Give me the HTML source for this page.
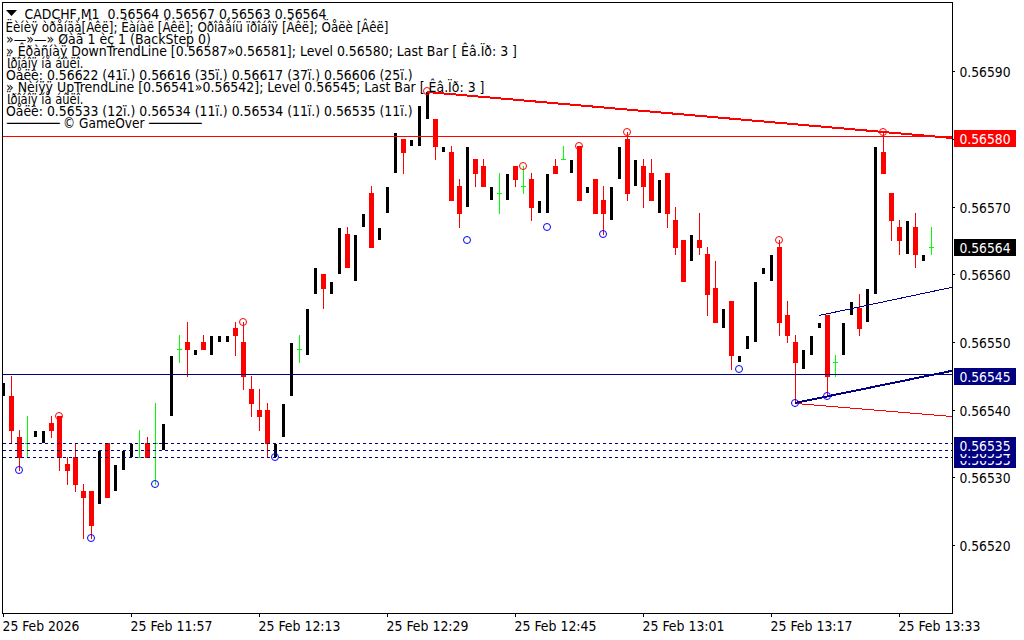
<!DOCTYPE html>
<html><head><meta charset="utf-8"><title>CADCHF,M1</title>
<style>html,body{margin:0;padding:0;background:#fff;width:1024px;height:640px;overflow:hidden}</style>
</head><body>
<svg width="1024" height="640" viewBox="0 0 1024 640" style="position:absolute;left:0;top:0;font-family:'DejaVu Sans Condensed','Liberation Sans',sans-serif">
<rect x="0" y="0" width="1024" height="640" fill="#fff"/>
<defs><clipPath id="c"><rect x="3" y="3" width="949" height="610"/></clipPath></defs>
<g clip-path="url(#c)" shape-rendering="crispEdges">
<rect x="3" y="383" width="2" height="13" fill="#000"/>
<rect x="11" y="376" width="1" height="68" fill="#ff0000"/>
<rect x="9" y="396" width="5" height="35" fill="#ff0000"/>
<rect x="19" y="430" width="1" height="41" fill="#ff0000"/>
<rect x="17" y="437" width="5" height="21" fill="#ff0000"/>
<rect x="27" y="416" width="1" height="42" fill="#00ff00"/>
<rect x="25" y="443" width="5" height="1" fill="#00ff00"/>
<rect x="34" y="431" width="3" height="6" fill="#000"/>
<rect x="42" y="431" width="3" height="12" fill="#000"/>
<rect x="51" y="416" width="1" height="22" fill="#ff0000"/>
<rect x="49" y="423" width="5" height="8" fill="#ff0000"/>
<rect x="59" y="416" width="1" height="55" fill="#ff0000"/>
<rect x="57" y="416" width="5" height="42" fill="#ff0000"/>
<rect x="67" y="457" width="1" height="28" fill="#ff0000"/>
<rect x="65" y="464" width="5" height="7" fill="#ff0000"/>
<rect x="75" y="443" width="1" height="49" fill="#ff0000"/>
<rect x="73" y="457" width="5" height="28" fill="#ff0000"/>
<rect x="83" y="484" width="1" height="55" fill="#ff0000"/>
<rect x="81" y="491" width="5" height="7" fill="#ff0000"/>
<rect x="91" y="491" width="1" height="48" fill="#ff0000"/>
<rect x="89" y="491" width="5" height="35" fill="#ff0000"/>
<rect x="98" y="451" width="3" height="53" fill="#000"/>
<rect x="107" y="443" width="1" height="55" fill="#ff0000"/>
<rect x="105" y="443" width="5" height="55" fill="#ff0000"/>
<rect x="114" y="465" width="3" height="26" fill="#000"/>
<rect x="122" y="451" width="3" height="19" fill="#000"/>
<rect x="130" y="444" width="3" height="13" fill="#000"/>
<rect x="139" y="430" width="1" height="28" fill="#00ff00"/>
<rect x="137" y="457" width="5" height="1" fill="#00ff00"/>
<rect x="147" y="437" width="1" height="21" fill="#ff0000"/>
<rect x="145" y="443" width="5" height="15" fill="#ff0000"/>
<rect x="155" y="403" width="1" height="82" fill="#00ff00"/>
<rect x="153" y="443" width="5" height="1" fill="#00ff00"/>
<rect x="162" y="424" width="3" height="26" fill="#000"/>
<rect x="170" y="356" width="3" height="60" fill="#000"/>
<rect x="179" y="335" width="1" height="28" fill="#00ff00"/>
<rect x="177" y="349" width="5" height="1" fill="#00ff00"/>
<rect x="187" y="322" width="1" height="55" fill="#ff0000"/>
<rect x="185" y="342" width="5" height="8" fill="#ff0000"/>
<rect x="194" y="350" width="3" height="5" fill="#000"/>
<rect x="203" y="335" width="1" height="15" fill="#ff0000"/>
<rect x="201" y="342" width="5" height="8" fill="#ff0000"/>
<rect x="210" y="336" width="3" height="19" fill="#000"/>
<rect x="218" y="336" width="3" height="6" fill="#000"/>
<rect x="226" y="336" width="3" height="6" fill="#000"/>
<rect x="235" y="322" width="1" height="34" fill="#ff0000"/>
<rect x="233" y="328" width="5" height="8" fill="#ff0000"/>
<rect x="243" y="322" width="1" height="68" fill="#ff0000"/>
<rect x="241" y="342" width="5" height="35" fill="#ff0000"/>
<rect x="251" y="376" width="1" height="41" fill="#ff0000"/>
<rect x="249" y="389" width="5" height="15" fill="#ff0000"/>
<rect x="259" y="389" width="1" height="42" fill="#ff0000"/>
<rect x="257" y="410" width="5" height="7" fill="#ff0000"/>
<rect x="267" y="403" width="1" height="55" fill="#ff0000"/>
<rect x="265" y="410" width="5" height="34" fill="#ff0000"/>
<rect x="274" y="444" width="3" height="13" fill="#000"/>
<rect x="282" y="404" width="3" height="33" fill="#000"/>
<rect x="290" y="343" width="3" height="53" fill="#000"/>
<rect x="299" y="335" width="1" height="28" fill="#00ff00"/>
<rect x="297" y="349" width="5" height="1" fill="#00ff00"/>
<rect x="306" y="309" width="3" height="46" fill="#000"/>
<rect x="314" y="268" width="3" height="26" fill="#000"/>
<rect x="323" y="274" width="1" height="35" fill="#ff0000"/>
<rect x="321" y="274" width="5" height="15" fill="#ff0000"/>
<rect x="330" y="282" width="3" height="12" fill="#000"/>
<rect x="338" y="228" width="3" height="46" fill="#000"/>
<rect x="347" y="227" width="1" height="41" fill="#ff0000"/>
<rect x="345" y="234" width="5" height="34" fill="#ff0000"/>
<rect x="354" y="235" width="3" height="46" fill="#000"/>
<rect x="362" y="214" width="3" height="13" fill="#000"/>
<rect x="371" y="186" width="1" height="62" fill="#ff0000"/>
<rect x="369" y="193" width="5" height="55" fill="#ff0000"/>
<rect x="378" y="228" width="3" height="12" fill="#000"/>
<rect x="386" y="187" width="3" height="26" fill="#000"/>
<rect x="394" y="133" width="3" height="40" fill="#000"/>
<rect x="403" y="139" width="1" height="35" fill="#ff0000"/>
<rect x="401" y="139" width="5" height="14" fill="#ff0000"/>
<rect x="410" y="140" width="3" height="6" fill="#000"/>
<rect x="418" y="106" width="3" height="40" fill="#000"/>
<rect x="426" y="92" width="3" height="27" fill="#000"/>
<rect x="435" y="119" width="1" height="41" fill="#ff0000"/>
<rect x="433" y="119" width="5" height="28" fill="#ff0000"/>
<rect x="442" y="147" width="3" height="5" fill="#000"/>
<rect x="451" y="146" width="1" height="55" fill="#ff0000"/>
<rect x="449" y="152" width="5" height="49" fill="#ff0000"/>
<rect x="459" y="179" width="1" height="49" fill="#ff0000"/>
<rect x="457" y="186" width="5" height="28" fill="#ff0000"/>
<rect x="466" y="147" width="3" height="60" fill="#000"/>
<rect x="475" y="159" width="1" height="28" fill="#ff0000"/>
<rect x="473" y="159" width="5" height="15" fill="#ff0000"/>
<rect x="483" y="159" width="1" height="28" fill="#ff0000"/>
<rect x="481" y="166" width="5" height="21" fill="#ff0000"/>
<rect x="490" y="187" width="3" height="13" fill="#000"/>
<rect x="499" y="173" width="1" height="41" fill="#00ff00"/>
<rect x="497" y="193" width="5" height="1" fill="#00ff00"/>
<rect x="506" y="174" width="3" height="26" fill="#000"/>
<rect x="515" y="166" width="1" height="21" fill="#ff0000"/>
<rect x="513" y="166" width="5" height="14" fill="#ff0000"/>
<rect x="523" y="166" width="1" height="28" fill="#00ff00"/>
<rect x="521" y="186" width="5" height="1" fill="#00ff00"/>
<rect x="531" y="173" width="1" height="48" fill="#ff0000"/>
<rect x="529" y="179" width="5" height="29" fill="#ff0000"/>
<rect x="538" y="201" width="3" height="12" fill="#000"/>
<rect x="546" y="174" width="3" height="39" fill="#000"/>
<rect x="555" y="159" width="1" height="15" fill="#ff0000"/>
<rect x="553" y="166" width="5" height="8" fill="#ff0000"/>
<rect x="563" y="146" width="1" height="14" fill="#00ff00"/>
<rect x="561" y="159" width="5" height="1" fill="#00ff00"/>
<rect x="570" y="160" width="3" height="13" fill="#000"/>
<rect x="579" y="146" width="1" height="55" fill="#ff0000"/>
<rect x="577" y="146" width="5" height="55" fill="#ff0000"/>
<rect x="586" y="187" width="3" height="6" fill="#000"/>
<rect x="595" y="179" width="1" height="35" fill="#ff0000"/>
<rect x="593" y="179" width="5" height="35" fill="#ff0000"/>
<rect x="603" y="186" width="1" height="49" fill="#ff0000"/>
<rect x="601" y="200" width="5" height="14" fill="#ff0000"/>
<rect x="610" y="187" width="3" height="33" fill="#000"/>
<rect x="618" y="147" width="3" height="32" fill="#000"/>
<rect x="627" y="132" width="1" height="69" fill="#ff0000"/>
<rect x="625" y="139" width="5" height="55" fill="#ff0000"/>
<rect x="634" y="160" width="3" height="26" fill="#000"/>
<rect x="643" y="159" width="1" height="49" fill="#ff0000"/>
<rect x="641" y="166" width="5" height="21" fill="#ff0000"/>
<rect x="651" y="159" width="1" height="42" fill="#ff0000"/>
<rect x="649" y="173" width="5" height="28" fill="#ff0000"/>
<rect x="658" y="180" width="3" height="33" fill="#000"/>
<rect x="667" y="173" width="1" height="55" fill="#ff0000"/>
<rect x="665" y="173" width="5" height="41" fill="#ff0000"/>
<rect x="675" y="207" width="1" height="48" fill="#ff0000"/>
<rect x="673" y="220" width="5" height="28" fill="#ff0000"/>
<rect x="683" y="240" width="1" height="42" fill="#ff0000"/>
<rect x="681" y="240" width="5" height="42" fill="#ff0000"/>
<rect x="690" y="235" width="3" height="26" fill="#000"/>
<rect x="699" y="213" width="1" height="42" fill="#ff0000"/>
<rect x="697" y="240" width="5" height="8" fill="#ff0000"/>
<rect x="707" y="247" width="1" height="69" fill="#ff0000"/>
<rect x="705" y="254" width="5" height="41" fill="#ff0000"/>
<rect x="715" y="261" width="1" height="62" fill="#ff0000"/>
<rect x="713" y="288" width="5" height="35" fill="#ff0000"/>
<rect x="722" y="309" width="3" height="19" fill="#000"/>
<rect x="731" y="301" width="1" height="69" fill="#ff0000"/>
<rect x="729" y="301" width="5" height="55" fill="#ff0000"/>
<rect x="738" y="356" width="3" height="6" fill="#000"/>
<rect x="746" y="336" width="3" height="13" fill="#000"/>
<rect x="754" y="282" width="3" height="60" fill="#000"/>
<rect x="762" y="268" width="3" height="6" fill="#000"/>
<rect x="770" y="255" width="3" height="26" fill="#000"/>
<rect x="779" y="240" width="1" height="96" fill="#ff0000"/>
<rect x="777" y="247" width="5" height="76" fill="#ff0000"/>
<rect x="787" y="301" width="1" height="42" fill="#ff0000"/>
<rect x="785" y="315" width="5" height="21" fill="#ff0000"/>
<rect x="795" y="335" width="1" height="69" fill="#ff0000"/>
<rect x="793" y="342" width="5" height="21" fill="#ff0000"/>
<rect x="802" y="350" width="3" height="19" fill="#000"/>
<rect x="810" y="336" width="3" height="19" fill="#000"/>
<rect x="818" y="323" width="3" height="5" fill="#000"/>
<rect x="827" y="315" width="1" height="82" fill="#ff0000"/>
<rect x="825" y="315" width="5" height="62" fill="#ff0000"/>
<rect x="835" y="355" width="1" height="22" fill="#00ff00"/>
<rect x="833" y="362" width="5" height="1" fill="#00ff00"/>
<rect x="842" y="323" width="3" height="32" fill="#000"/>
<rect x="850" y="302" width="3" height="13" fill="#000"/>
<rect x="859" y="294" width="1" height="42" fill="#ff0000"/>
<rect x="857" y="308" width="5" height="21" fill="#ff0000"/>
<rect x="866" y="289" width="3" height="33" fill="#000"/>
<rect x="874" y="147" width="3" height="147" fill="#000"/>
<rect x="883" y="132" width="1" height="42" fill="#ff0000"/>
<rect x="881" y="152" width="5" height="22" fill="#ff0000"/>
<rect x="891" y="193" width="1" height="48" fill="#ff0000"/>
<rect x="889" y="193" width="5" height="28" fill="#ff0000"/>
<rect x="899" y="220" width="1" height="35" fill="#ff0000"/>
<rect x="897" y="227" width="5" height="14" fill="#ff0000"/>
<rect x="906" y="221" width="3" height="33" fill="#000"/>
<rect x="915" y="213" width="1" height="55" fill="#ff0000"/>
<rect x="913" y="227" width="5" height="28" fill="#ff0000"/>
<rect x="922" y="255" width="3" height="6" fill="#000"/>
<rect x="931" y="227" width="1" height="28" fill="#00ff00"/>
<rect x="929" y="247" width="5" height="1" fill="#00ff00"/>
<rect x="3" y="136" width="949" height="1" fill="#ff0000"/>
<rect x="3" y="374" width="949" height="1" fill="#000080"/>
<line x1="3" y1="443.5" x2="952" y2="443.5" stroke="#000080" stroke-width="1" stroke-dasharray="3,3"/>
<line x1="3" y1="450.5" x2="952" y2="450.5" stroke="#000080" stroke-width="1" stroke-dasharray="3,3"/>
<line x1="3" y1="457.5" x2="952" y2="457.5" stroke="#000080" stroke-width="1" stroke-dasharray="3,3"/>
</g>
<g clip-path="url(#c)">
<g shape-rendering="crispEdges">
<line x1="796" y1="403.5" x2="952" y2="416.5" stroke="#ff0000" stroke-width="1"/>
<line x1="427" y1="92" x2="952" y2="138" stroke="#ff0000" stroke-width="2"/>
<line x1="795" y1="403" x2="952" y2="370.8" stroke="#000080" stroke-width="2"/>
<line x1="819" y1="315.5" x2="952" y2="287.3" stroke="#000080" stroke-width="1"/>
</g>
<circle cx="59" cy="416" r="3.5" fill="none" stroke="#ff0000" stroke-width="1"/>
<circle cx="243" cy="322" r="3.5" fill="none" stroke="#ff0000" stroke-width="1"/>
<circle cx="427" cy="91" r="3.5" fill="none" stroke="#ff0000" stroke-width="1"/>
<circle cx="523" cy="166" r="3.5" fill="none" stroke="#ff0000" stroke-width="1"/>
<circle cx="579" cy="146" r="3.5" fill="none" stroke="#ff0000" stroke-width="1"/>
<circle cx="627" cy="132" r="3.5" fill="none" stroke="#ff0000" stroke-width="1"/>
<circle cx="779" cy="240" r="3.5" fill="none" stroke="#ff0000" stroke-width="1"/>
<circle cx="883" cy="132" r="3.5" fill="none" stroke="#ff0000" stroke-width="1"/>
<circle cx="19" cy="470" r="3.5" fill="none" stroke="#0000ff" stroke-width="1"/>
<circle cx="91" cy="538" r="3.5" fill="none" stroke="#0000ff" stroke-width="1"/>
<circle cx="155" cy="484" r="3.5" fill="none" stroke="#0000ff" stroke-width="1"/>
<circle cx="275" cy="457" r="3.5" fill="none" stroke="#0000ff" stroke-width="1"/>
<circle cx="467" cy="240" r="3.5" fill="none" stroke="#0000ff" stroke-width="1"/>
<circle cx="547" cy="227" r="3.5" fill="none" stroke="#0000ff" stroke-width="1"/>
<circle cx="603" cy="234" r="3.5" fill="none" stroke="#0000ff" stroke-width="1"/>
<circle cx="739" cy="369" r="3.5" fill="none" stroke="#0000ff" stroke-width="1"/>
<circle cx="795" cy="403" r="3.5" fill="none" stroke="#0000ff" stroke-width="1"/>
<circle cx="827" cy="396" r="3.5" fill="none" stroke="#0000ff" stroke-width="1"/>
</g>
<g shape-rendering="crispEdges" fill="#000">
<rect x="2" y="2" width="951" height="1"/>
<rect x="2" y="2" width="1" height="612"/>
<rect x="952" y="2" width="1" height="612"/>
<rect x="2" y="613" width="951" height="1"/>
<rect x="953" y="71" width="2" height="1"/>
<rect x="953" y="139" width="2" height="1"/>
<rect x="953" y="207" width="2" height="1"/>
<rect x="953" y="274" width="2" height="1"/>
<rect x="953" y="342" width="2" height="1"/>
<rect x="953" y="410" width="2" height="1"/>
<rect x="953" y="477" width="2" height="1"/>
<rect x="953" y="545" width="2" height="1"/>
<rect x="3" y="614" width="1" height="3"/>
<rect x="131" y="614" width="1" height="3"/>
<rect x="259" y="614" width="1" height="3"/>
<rect x="387" y="614" width="1" height="3"/>
<rect x="515" y="614" width="1" height="3"/>
<rect x="643" y="614" width="1" height="3"/>
<rect x="771" y="614" width="1" height="3"/>
<rect x="899" y="614" width="1" height="3"/>
</g>
<text x="959.5" y="77" font-size="14" fill="#000" textLength="51.0" lengthAdjust="spacingAndGlyphs">0.56590</text>
<text x="959.5" y="213" font-size="14" fill="#000" textLength="51.0" lengthAdjust="spacingAndGlyphs">0.56570</text>
<text x="959.5" y="280" font-size="14" fill="#000" textLength="51.0" lengthAdjust="spacingAndGlyphs">0.56560</text>
<text x="959.5" y="348" font-size="14" fill="#000" textLength="51.0" lengthAdjust="spacingAndGlyphs">0.56550</text>
<text x="959.5" y="416" font-size="14" fill="#000" textLength="51.0" lengthAdjust="spacingAndGlyphs">0.56540</text>
<text x="959.5" y="483" font-size="14" fill="#000" textLength="51.0" lengthAdjust="spacingAndGlyphs">0.56530</text>
<text x="959.5" y="551" font-size="14" fill="#000" textLength="51.0" lengthAdjust="spacingAndGlyphs">0.56520</text>
<rect x="954" y="130" width="62" height="17" fill="#ff0000" shape-rendering="crispEdges"/><text x="959.5" y="144" font-size="14" fill="#fff" textLength="51.0" lengthAdjust="spacingAndGlyphs">0.56580</text>
<rect x="954" y="239" width="62" height="17" fill="#000" shape-rendering="crispEdges"/><text x="959.5" y="253" font-size="14" fill="#fff" textLength="51.0" lengthAdjust="spacingAndGlyphs">0.56564</text>
<rect x="954" y="368" width="62" height="17" fill="#000080" shape-rendering="crispEdges"/><text x="959.5" y="382" font-size="14" fill="#fff" textLength="51.0" lengthAdjust="spacingAndGlyphs">0.56545</text>
<rect x="954" y="451" width="62" height="17" fill="#000080" shape-rendering="crispEdges"/><text x="959.5" y="465" font-size="14" fill="#fff" textLength="51.0" lengthAdjust="spacingAndGlyphs">0.56533</text>
<rect x="954" y="444" width="62" height="17" fill="#000080" shape-rendering="crispEdges"/><text x="959.5" y="458" font-size="14" fill="#fff" textLength="51.0" lengthAdjust="spacingAndGlyphs">0.56534</text>
<rect x="954" y="437" width="62" height="17" fill="#000080" shape-rendering="crispEdges"/><text x="959.5" y="451" font-size="14" fill="#fff" textLength="51.0" lengthAdjust="spacingAndGlyphs">0.56535</text>
<text x="2.5" y="631" font-size="14" fill="#000" textLength="77.0" lengthAdjust="spacingAndGlyphs">25 Feb 2026</text>
<text x="130.5" y="631" font-size="14" fill="#000" textLength="82.0" lengthAdjust="spacingAndGlyphs">25 Feb 11:57</text>
<text x="258.5" y="631" font-size="14" fill="#000" textLength="82.0" lengthAdjust="spacingAndGlyphs">25 Feb 12:13</text>
<text x="386.5" y="631" font-size="14" fill="#000" textLength="82.0" lengthAdjust="spacingAndGlyphs">25 Feb 12:29</text>
<text x="514.5" y="631" font-size="14" fill="#000" textLength="82.0" lengthAdjust="spacingAndGlyphs">25 Feb 12:45</text>
<text x="642.5" y="631" font-size="14" fill="#000" textLength="82.0" lengthAdjust="spacingAndGlyphs">25 Feb 13:01</text>
<text x="770.5" y="631" font-size="14" fill="#000" textLength="82.0" lengthAdjust="spacingAndGlyphs">25 Feb 13:17</text>
<text x="898.5" y="631" font-size="14" fill="#000" textLength="82.0" lengthAdjust="spacingAndGlyphs">25 Feb 13:33</text>
<path d="M6 10 L17 10 L11.5 16 Z" fill="#000"/>
<text x="24.5" y="19" font-size="14" fill="#000" textLength="302.0" lengthAdjust="spacingAndGlyphs">CADCHF,M1  0.56564 0.56567 0.56563 0.56564</text>
<text x="5.5" y="32" font-size="14" fill="#000" textLength="383.0" lengthAdjust="spacingAndGlyphs">Ëèíèÿ òðåíäà[Âêë]; Êàíàë [Âêë]; Óðîâåíü ïðîáîÿ [Âêë]; Öåëè [Âêë]</text>
<text x="6" y="44" font-size="14" fill="#000" textLength="205.0" lengthAdjust="spacingAndGlyphs">»—»—» Øàã 1 èç 1 (BackStep 0)</text>
<text x="6" y="56" font-size="14" fill="#000" textLength="511.0" lengthAdjust="spacingAndGlyphs">» Êðàñíàÿ DownTrendLine [0.56587»0.56581]; Level 0.56580; Last Bar [ Êâ.Ïð: 3 ]</text>
<text x="7" y="68" font-size="14" fill="#000" textLength="76.5" lengthAdjust="spacingAndGlyphs">Ïðîáîÿ íå áûëî.</text>
<text x="6" y="80" font-size="14" fill="#000" textLength="406.5" lengthAdjust="spacingAndGlyphs">Öåëè: 0.56622 (41ï.) 0.56616 (35ï.) 0.56617 (37ï.) 0.56606 (25ï.)</text>
<text x="6" y="92" font-size="14" fill="#000" textLength="478.5" lengthAdjust="spacingAndGlyphs">» Ñèíÿÿ UpTrendLine [0.56541»0.56542]; Level 0.56545; Last Bar [ Êâ.Ïð: 3 ]</text>
<text x="7" y="104" font-size="14" fill="#000" textLength="76.5" lengthAdjust="spacingAndGlyphs">Ïðîáîÿ íå áûëî.</text>
<text x="6" y="116" font-size="14" fill="#000" textLength="406.5" lengthAdjust="spacingAndGlyphs">Öåëè: 0.56533 (12ï.) 0.56534 (11ï.) 0.56534 (11ï.) 0.56535 (11ï.)</text>
<text x="7" y="128" font-size="14" fill="#000" textLength="52.5" lengthAdjust="spacingAndGlyphs">─────</text>
<text x="63" y="128" font-size="14" fill="#000" textLength="81.5" lengthAdjust="spacingAndGlyphs">© GameOver</text>
<text x="149" y="128" font-size="14" fill="#000" textLength="52.5" lengthAdjust="spacingAndGlyphs">─────</text>
</svg>
</body></html>
